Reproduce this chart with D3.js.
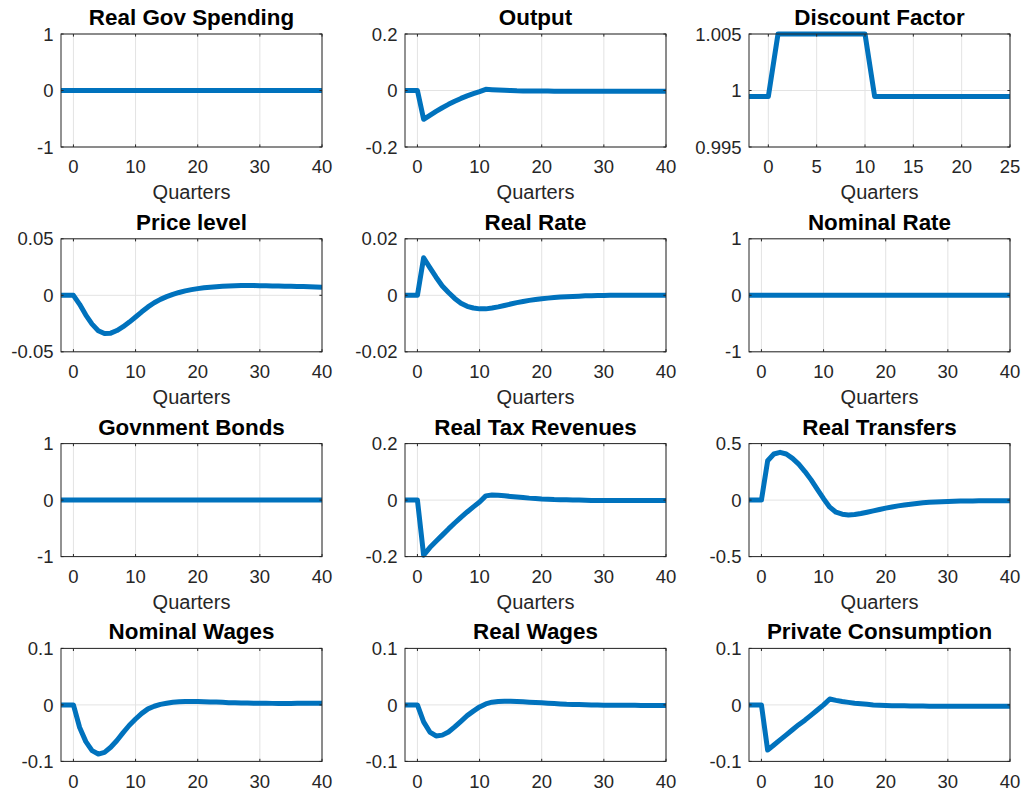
<!DOCTYPE html>
<html>
<head>
<meta charset="utf-8">
<script src="https://cdn.jsdelivr.net/npm/d3@7"></script>
<style>
	html, body { margin: 0; padding: 0; background: #fff; }
	svg { display: block; }
</style>
</head>
<body>
<div id="chart"></div>
<script>
(function() {
	"use strict";

	// quarters -2 .. 40
	var quarters = [-2, -1, 0, 1, 2, 3, 4, 5, 6, 7, 8, 9, 10, 11, 12, 13, 14, 15, 16, 17, 18, 19, 20,
		21, 22, 23, 24, 25, 26, 27, 28, 29, 30, 31, 32, 33, 34, 35, 36, 37, 38, 39, 40];

	var govSpending = [0, 0, 0, 0, 0, 0, 0, 0, 0, 0, 0, 0, 0, 0, 0, 0, 0, 0, 0, 0, 0, 0, 0,
		0, 0, 0, 0, 0, 0, 0, 0, 0, 0, 0, 0, 0, 0, 0, 0, 0, 0, 0, 0];
	var output = [0, 0, 0, -0.102, -0.088, -0.074, -0.061, -0.049, -0.038, -0.028, -0.019, -0.011, -0.004, 0.004,
		0.003, 0.002, 0.001, 0.0, -0.001, -0.0015, -0.002, -0.002, -0.002, -0.0022, -0.0023, -0.0024, -0.0025,
		-0.0025, -0.0025, -0.0025, -0.0025, -0.0025, -0.0025, -0.0025, -0.0025, -0.0025, -0.0025, -0.0025,
		-0.0025, -0.0025, -0.0025, -0.0025, -0.0025];
	var discount = [0.99946, 0.99946, 0.99946, 1.005, 1.005, 1.005, 1.005, 1.005, 1.005, 1.005, 1.005, 1.005, 1.005,
		0.99946, 0.99946, 0.99946, 0.99946, 0.99946, 0.99946, 0.99946, 0.99946, 0.99946, 0.99946, 0.99946,
		0.99946, 0.99946, 0.99946, 0.99946, 0.99946, 0.99946, 0.99946, 0.99946, 0.99946, 0.99946, 0.99946,
		0.99946, 0.99946, 0.99946, 0.99946, 0.99946, 0.99946, 0.99946, 0.99946];
	var priceLevel = [0, 0, 0, -0.008, -0.0175, -0.0255, -0.0313, -0.0338, -0.0335, -0.0312, -0.0278, -0.0237,
		-0.0192, -0.0146, -0.0103, -0.0066, -0.0036, -0.0012, 0.0008, 0.0025, 0.0039, 0.005, 0.0059, 0.0066,
		0.0072, 0.0076, 0.008, 0.0083, 0.0085, 0.0086, 0.0086, 0.0086, 0.0085, 0.0084, 0.0083, 0.0082, 0.008,
		0.0079, 0.0078, 0.0077, 0.0075, 0.0074, 0.0072];
	var realRate = [0, 0, 0, 0.0133, 0.0098, 0.0064, 0.0033, 0.001, -0.0011, -0.0028, -0.0039, -0.0045, -0.0048,
		-0.0048, -0.0045, -0.0041, -0.0036, -0.0031, -0.0026, -0.0022, -0.0018, -0.0015, -0.0012, -0.001, -0.0008,
		-0.0006, -0.0005, -0.0004, -0.0003, -0.0002, -0.0002, -0.0001, -0.0001, 0, 0, 0, 0, 0, 0, 0, 0, 0, 0];
	var nominalRate = [0, 0, 0, 0, 0, 0, 0, 0, 0, 0, 0, 0, 0, 0, 0, 0, 0, 0, 0, 0, 0, 0, 0,
		0, 0, 0, 0, 0, 0, 0, 0, 0, 0, 0, 0, 0, 0, 0, 0, 0, 0, 0, 0];
	var govBonds = [0, 0, 0, 0, 0, 0, 0, 0, 0, 0, 0, 0, 0, 0, 0, 0, 0, 0, 0, 0, 0, 0, 0,
		0, 0, 0, 0, 0, 0, 0, 0, 0, 0, 0, 0, 0, 0, 0, 0, 0, 0, 0, 0];
	var taxRevenues = [0, 0, 0, -0.195, -0.168, -0.146, -0.124, -0.102, -0.081, -0.061, -0.042, -0.024, -0.007,
		0.015, 0.018, 0.017, 0.015, 0.013, 0.011, 0.009, 0.007, 0.0055, 0.004, 0.003, 0.002, 0.0015, 0.001,
		0.0005, 0, -0.0005, -0.001, -0.001, -0.001, -0.0012, -0.0012, -0.0013, -0.0013, -0.0014, -0.0014,
		-0.0015, -0.0015, -0.0015, -0.0015];
	var transfers = [0, 0, 0, 0.348, 0.408, 0.423, 0.408, 0.369, 0.318, 0.253, 0.179, 0.095, 0.012, -0.0625,
		-0.107, -0.125, -0.131, -0.128, -0.119, -0.107, -0.095, -0.083, -0.071, -0.061, -0.051, -0.043, -0.036,
		-0.03, -0.024, -0.02, -0.017, -0.014, -0.012, -0.01, -0.009, -0.008, -0.007, -0.0065, -0.006, -0.0055,
		-0.005, -0.005, -0.005];
	var nominalWages = [0, 0, 0, -0.04, -0.065, -0.081, -0.087, -0.084, -0.075, -0.063, -0.049, -0.036, -0.025,
		-0.015, -0.007, -0.0024, 0.001, 0.003, 0.0047, 0.0055, 0.006, 0.006, 0.006, 0.0057, 0.0053, 0.005, 0.0045,
		0.004, 0.0037, 0.0034, 0.0032, 0.003, 0.003, 0.0028, 0.0027, 0.0027, 0.0027, 0.0027, 0.0028, 0.0028,
		0.0029, 0.003, 0.003];
	var realWages = [0, 0, 0, -0.03, -0.048, -0.055, -0.0535, -0.048, -0.039, -0.029, -0.019, -0.011, -0.0036,
		0.0018, 0.0048, 0.006, 0.0065, 0.0065, 0.006, 0.0055, 0.0048, 0.0042, 0.0036, 0.003, 0.0024, 0.0018,
		0.0012, 0.0009, 0.0006, 0.0003, 0, -0.0002, -0.0004, -0.0005, -0.0006, -0.0007, -0.0008, -0.0008,
		-0.0009, -0.0009, -0.001, -0.001, -0.001];
	var consumption = [0, 0, 0, -0.08, -0.071, -0.062, -0.053, -0.044, -0.035, -0.027, -0.018, -0.009, 0.0,
		0.0105, 0.008, 0.006, 0.0045, 0.003, 0.002, 0.001, 0.0, -0.0005, -0.001, -0.0013, -0.0015, -0.0017,
		-0.0019, -0.002, -0.0021, -0.0022, -0.0022, -0.0023, -0.0023, -0.0024, -0.0024, -0.0024, -0.0025,
		-0.0025, -0.0025, -0.0025, -0.0025, -0.0025, -0.0025];

	var titles = ["Real Gov Spending", "Output", "Discount Factor",
		"Price level", "Real Rate", "Nominal Rate",
		"Govnment Bonds", "Real Tax Revenues", "Real Transfers",
		"Nominal Wages", "Real Wages", "Private Consumption"];
	var series = [govSpending, output, discount, priceLevel, realRate, nominalRate,
		govBonds, taxRevenues, transfers, nominalWages, realWages, consumption];

	var xTicks40 = [0, 10, 20, 30, 40];
	var xTicks25 = [0, 5, 10, 15, 20, 25];
	var yTicks = [[-1, 0, 1], [-0.2, 0, 0.2], [0.995, 1, 1.005],
		[-0.05, 0, 0.05], [-0.02, 0, 0.02], [-1, 0, 1],
		[-1, 0, 1], [-0.2, 0, 0.2], [-0.5, 0, 0.5],
		[-0.1, 0, 0.1], [-0.1, 0, 0.1], [-0.1, 0, 0.1]];
	var xLabel = "Quarters";

	var width = 1025, height = 794;
	var axW = 261, axH = 113;
	var blue = "#0072BD", axisColor = "#262626", gridColor = "#e3e3e3";
	var font = "'Liberation Sans', Arial, Helvetica, sans-serif";

	var svg = d3.select("#chart").append("svg")
		.attr("width", width)
		.attr("height", height);
	svg.append("rect").attr("width", width).attr("height", height).attr("fill", "#fff");

	titles.forEach(function(title, i) {
		var col = i % 3, row = Math.floor(i / 3);
		var left = 61 + col * 344, top = 34 + row * 204.8;
		var xt = (i === 2) ? xTicks25 : xTicks40;
		var yt = yTicks[i];

		var x = d3.scaleLinear().domain([-2, xt[xt.length - 1]]).range([0, axW]);
		var y = d3.scaleLinear().domain([yt[0], yt[2]]).range([axH, 0]);

		var g = svg.append("g").attr("transform", "translate(" + left + "," + top + ")");

		// grid
		g.selectAll(".vgrid").data(xt).enter().append("line")
			.attr("x1", function(d) { return x(d); }).attr("x2", function(d) { return x(d); })
			.attr("y1", 0).attr("y2", axH)
			.attr("stroke", gridColor).attr("stroke-width", 1);
		g.selectAll(".hgrid").data(yt).enter().append("line")
			.attr("y1", function(d) { return y(d); }).attr("y2", function(d) { return y(d); })
			.attr("x1", 0).attr("x2", axW)
			.attr("stroke", gridColor).attr("stroke-width", 1);

		// line
		var clipId = "clip" + i;
		g.append("clipPath").attr("id", clipId).append("rect")
			.attr("x", 0).attr("y", -6).attr("width", axW).attr("height", axH + 12);
		var line = d3.line()
			.x(function(d, j) { return x(quarters[j]); })
			.y(function(d) { return y(d); });
		g.append("path")
			.datum(series[i])
			.attr("clip-path", "url(#" + clipId + ")")
			.attr("d", line)
			.attr("fill", "none")
			.attr("stroke", blue)
			.attr("stroke-width", 5)
			.attr("stroke-linejoin", "round");

		// box and ticks
		g.append("rect").attr("width", axW).attr("height", axH)
			.attr("fill", "none").attr("stroke", axisColor).attr("stroke-width", 1);
		var tl = 2.6;
		xt.forEach(function(d) {
			g.append("line").attr("x1", x(d)).attr("x2", x(d)).attr("y1", axH).attr("y2", axH - tl)
				.attr("stroke", axisColor);
			g.append("line").attr("x1", x(d)).attr("x2", x(d)).attr("y1", 0).attr("y2", tl)
				.attr("stroke", axisColor);
		});
		yt.forEach(function(d) {
			g.append("line").attr("y1", y(d)).attr("y2", y(d)).attr("x1", 0).attr("x2", tl)
				.attr("stroke", axisColor);
			g.append("line").attr("y1", y(d)).attr("y2", y(d)).attr("x1", axW).attr("x2", axW - tl)
				.attr("stroke", axisColor);
		});

		// tick labels
		g.selectAll(".xtl").data(xt).enter().append("text")
			.attr("x", function(d) { return x(d); })
			.attr("y", axH + 26.3)
			.attr("text-anchor", "middle")
			.attr("font-family", font).attr("font-size", 18.5).attr("fill", axisColor)
			.text(function(d) { return String(d); });
		g.selectAll(".ytl").data(yt).enter().append("text")
			.attr("x", -7.5)
			.attr("y", function(d) { return y(d); })
			.attr("dy", "0.36em")
			.attr("text-anchor", "end")
			.attr("font-family", font).attr("font-size", 18.5).attr("fill", axisColor)
			.text(function(d) { return String(d); });

		// title and x label
		g.append("text")
			.attr("x", axW / 2).attr("y", -9)
			.attr("text-anchor", "middle")
			.attr("font-family", font).attr("font-size", 22.4).attr("font-weight", "bold")
			.attr("fill", "#000")
			.text(title);
		if (row < 3) {
			g.append("text")
				.attr("x", axW / 2).attr("y", axH + 52)
				.attr("text-anchor", "middle")
				.attr("font-family", font).attr("font-size", 20).attr("fill", axisColor)
				.text(xLabel);
		}
	});
}());
</script>
</body>
</html>
